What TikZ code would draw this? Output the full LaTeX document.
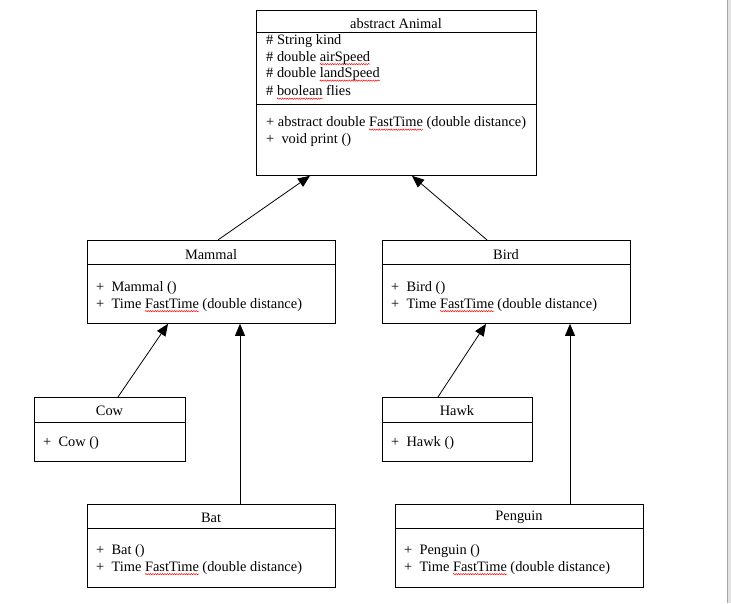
\documentclass[tikz,border=0pt]{standalone}
\usepackage{fontspec}
\setmainfont{Liberation Serif}
\usetikzlibrary{arrows.meta,decorations.pathmorphing}
\newbox\sqbox
\newdimen\sqlen
\newcommand\sq[1]{\setbox\sqbox=\hbox{#1}\sqlen=\wd\sqbox\mbox{\rlap{\tikz[baseline=0pt,x=1pt,y=1pt]{\path (0,0);\draw[overlay,red,line width=0.45pt,decorate,decoration={snake,amplitude=0.7pt,segment length=2.4pt}] (0,-2.8) -- (\sqlen,-2.8);}}\box\sqbox}}
\tikzset{
  box/.style={draw, line width=0.9pt, inner sep=0pt},
  txt/.style={anchor=west, inner sep=0pt, font=\fontsize{14.4}{16}\selectfont},
  ttl/.style={inner sep=0pt, font=\fontsize{14.4}{16}\selectfont},
  inh/.style={line width=0.8pt, -{Triangle[length=12pt,width=10pt]}}
}
\begin{document}
\begin{tikzpicture}[x=1pt,y=-1pt]
\fill[white] (0,0) rectangle (731,603);
\fill[gray!22] (727,0) rectangle (731,603);
\draw[gray!70, line width=0.8pt] (727.5,0) -- (727.5,603);
\useasboundingbox (0,0) rectangle (731,603);

% Animal
\node[box, minimum width=280pt, minimum height=165pt] (animal) at (396,92.5) {};
\draw[line width=0.8pt] (256,32) -- (536,32);
\draw[line width=0.8pt] (256,104) -- (536,104);
\node[ttl] (animalT) at (396,23) {abstract Animal};
\node[txt] (a1) at (266,41) {\# String kind};
\node[txt] (a2) at (266,57.5) {\# double \sq{airSpeed}};
\node[txt] (a3) at (266,74) {\# double \sq{landSpeed}};
\node[txt] (a4) at (266,90.5) {\# \sq{boolean} flies};
\node[txt] (a5) at (266,123) {+ abstract double \sq{FastTime} (double distance)};
\node[txt] (a6) at (266,139.5) {+~ void print ()};

% Mammal
\node[box, minimum width=248pt, minimum height=83pt] (mammal) at (211,281.5) {};
\draw[line width=0.8pt] (87,264) -- (335,264);
\node[ttl] (mammalT) at (211,254) {Mammal};
\node[txt] (m1) at (96,288) {+~ Mammal ()};
\node[txt] (m2) at (96,304.5) {+~ Time \sq{FastTime} (double distance)};

% Bird
\node[box, minimum width=248pt, minimum height=83pt] (bird) at (506,281.5) {};
\draw[line width=0.8pt] (382,264) -- (630,264);
\node[ttl] (birdT) at (506,254) {Bird};
\node[txt] (b1) at (391,288) {+~ Bird ()};
\node[txt] (b2) at (391,304.5) {+~ Time \sq{FastTime} (double distance)};

% Cow
\node[box, minimum width=151pt, minimum height=64pt] (cow) at (109.5,429) {};
\draw[line width=0.8pt] (34,422) -- (185,422);
\node[ttl] (cowT) at (109.5,410) {Cow};
\node[txt] (c1) at (43,443) {+~ Cow ()};

% Hawk
\node[box, minimum width=150pt, minimum height=64pt] (hawk) at (457,429) {};
\draw[line width=0.8pt] (382,422) -- (532,422);
\node[ttl] (hawkT) at (457,410) {Hawk};
\node[txt] (h1) at (391,443) {+~ Hawk ()};

% Bat
\node[box, minimum width=248pt, minimum height=83pt] (bat) at (211,545.5) {};
\draw[line width=0.8pt] (87,528) -- (335,528);
\node[ttl] (batT) at (211,517) {Bat};
\node[txt] (t1) at (96,551) {+~ Bat ()};
\node[txt] (t2) at (96,567.5) {+~ Time \sq{FastTime} (double distance)};

% Penguin
\node[box, minimum width=248pt, minimum height=83pt] (penguin) at (519,545.5) {};
\draw[line width=0.8pt] (395,528) -- (643,528);
\node[ttl] (penguinT) at (519,517) {Penguin};
\node[txt] (p1) at (404,551) {+~ Penguin ()};
\node[txt] (p2) at (404,567.5) {+~ Time \sq{FastTime} (double distance)};

% Inheritance
\draw[inh] ([xshift=7pt]mammal.north) -- ([xshift=-86pt]animal.south);
\draw[inh] ([xshift=-19pt]bird.north) -- ([xshift=16pt]animal.south);
\draw[inh] ([xshift=8.5pt]cow.north) -- ([xshift=-43pt]mammal.south);
\draw[inh] ([xshift=29pt]bat.north) -- ([xshift=29pt]mammal.south);
\draw[inh] ([xshift=-19pt]hawk.north) -- ([xshift=-20pt]bird.south);
\draw[inh] ([xshift=51pt]penguin.north) -- ([xshift=64pt]bird.south);
\end{tikzpicture}
\end{document}
